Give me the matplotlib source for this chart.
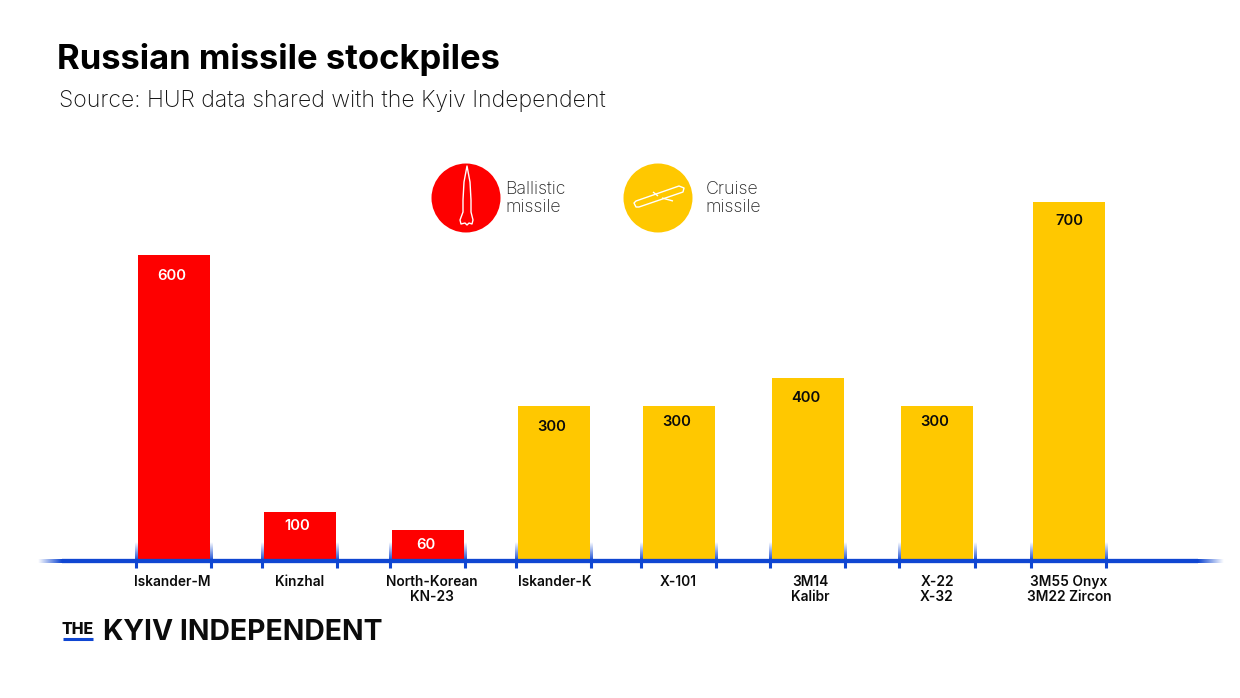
import numpy as np
import matplotlib
matplotlib.use("Agg")
import matplotlib.pyplot as plt
from matplotlib.patches import Ellipse, Polygon
from matplotlib.colors import to_rgb

# ---- data -------------------------------------------------------------
categories = ["Iskander-M", "Kinzhal", "North-Korean\nKN-23", "Iskander-K", "X-101",
              "3M14\nKalibr", "X-22\nX-32", "3M55 Onyx\n3M22 Zircon"]
value_labels = ["600", "100", "60", "300", "300", "400", "300", "700"]
# Heights as actually drawn in the picture (the original is not strictly to scale)
drawn_heights = [600, 96, 61, 304, 304, 359, 304, 704]
missile_types = ["b", "b", "b", "c", "c", "c", "c", "c"]

# ---- layout -----------------------------------------------------------
RED, YEL, BLUE, INK = "#FE0000", "#FFC800", "#0F46D2", "#0B0B0B"
W, H = 1240, 698
BASE, PX = 561, 0.51
centers = [174, 300, 428, 554, 679, 808, 937, 1069]
label_x = [172, 300, 432, 555, 678, 810, 937, 1069]
val_x = [172, 297, 426, 552, 677, 806, 935, 1069]
val_off = [21, 14, 15, 21, 16, 20, 16, 19]
BAR_W = 72
tick_edges = [136, 211, 262, 337, 390, 465, 516, 591, 641, 716, 770, 845, 899, 975, 1031, 1106]

plt.rcParams["font.family"] = ["Inter", "DejaVu Sans"]
fig = plt.figure(figsize=(W / 100, H / 100), dpi=100, facecolor="white")
ax = fig.add_axes([0, 0, 1, 1])
ax.axis("off")


def vy(py):
    return (BASE - py) / PX


ax.set_xlim(0, W)
ylim = (vy(H), vy(0))

# bars
colors = [RED if t == "b" else YEL for t in missile_types]
ax.bar(centers, drawn_heights, width=BAR_W, color=colors, linewidth=0, zorder=2)


def gradient(x0, x1, y0, y1, color, axis, a0, a1, z=3):
    r, g, b = to_rgb(color)
    n = 64
    t = np.linspace(a0, a1, n)
    arr = np.ones((n, 1, 4)) if axis == "v" else np.ones((1, n, 4))
    arr[..., 0], arr[..., 1], arr[..., 2] = r, g, b
    arr[..., 3] = t.reshape(arr.shape[:2])
    ax.imshow(arr, extent=(x0, x1, vy(y1), vy(y0)), origin="upper",
              aspect="auto", zorder=z, interpolation="bilinear")


# baseline with faded ends
ax.plot([62, 1198], [0, 0], color=BLUE, lw=3.1, solid_capstyle="butt", zorder=4)
gradient(38, 62, 559, 563, BLUE, "h", 0, 1, 4)
gradient(1198, 1224, 559, 563, BLUE, "h", 1, 0, 4)

# ticks: solid below, fading upward above the baseline
for x in tick_edges:
    ax.plot([x, x], [vy(561), vy(568)], color=BLUE, lw=2.2, solid_capstyle="butt", zorder=4)
    gradient(x - 1.5, x + 1.5, 542, 561, BLUE, "v", 0, 1, 3)

# value labels
for x, h, off, s, t in zip(val_x, drawn_heights, val_off, value_labels, missile_types):
    ax.text(x, vy(BASE - h * PX + off), s, ha="center", va="center", fontsize=10.6,
            fontweight="semibold", color="white" if t == "b" else INK, zorder=5)

# category labels
for x, s in zip(label_x, categories):
    ax.text(x, vy(575), s, ha="center", va="top", fontsize=9.9, fontweight="semibold",
            color=INK, linespacing=1.1, zorder=5)

# title and subtitle
ax.text(57, vy(60), "Russian missile stockpiles", fontsize=24.95, fontweight="bold",
        color="black", va="center", ha="left")
ax.text(59, vy(101), "Source: HUR data shared with the Kyiv Independent", fontsize=16.56,
        fontweight="light", color="#111111", va="center", ha="left")

# legend circles
ax.add_patch(Ellipse((466, vy(198)), 69, 69 / PX, color=RED, lw=0, zorder=3))
ax.add_patch(Ellipse((658, vy(198)), 69, 69 / PX, color=YEL, lw=0, zorder=3))
ax.text(505, vy(198), "Ballistic\nmissile", fontsize=12.8, fontweight="light", color="#222222",
        va="center", ha="left", linespacing=1.08)
ax.text(705.5, vy(198.5), "Cruise\nmissile", fontsize=12.8, fontweight="light", color="#222222",
        va="center", ha="left", linespacing=1.08)


def stroke(pts, closed=True):
    xy = [(x, vy(y)) for x, y in pts]
    ax.add_patch(Polygon(xy, closed=closed, fill=False, edgecolor="white", lw=1.0,
                         joinstyle="round", zorder=4))


# ballistic missile glyph
stroke([(467, 166), (470, 182), (471, 200), (471, 212), (473, 220), (472, 224), (469, 223),
        (467, 225), (465, 223), (461, 224), (460, 220), (463, 212), (463, 200), (464, 182)])
# cruise missile glyph
stroke([(634, 203), (636, 207), (639, 207), (683, 192), (684, 188), (679, 186), (636, 201)])
stroke([(653, 192), (658, 196)], closed=False)
stroke([(662, 198), (673, 201)], closed=False)

# logo
ax.text(62, vy(629), "THE", fontsize=11.4, fontweight="heavy", color=INK, va="center", ha="left")
ax.plot([63, 93], [vy(638.5)] * 2, color=BLUE, lw=2.2, solid_capstyle="butt")
ax.text(103, vy(632.5), "KYIV INDEPENDENT", fontsize=20.4, fontweight="bold", color=INK,
        va="center", ha="left")

ax.set_xlim(0, W)
ax.set_ylim(*ylim)
fig.savefig("out.png", dpi=100, facecolor="white")
